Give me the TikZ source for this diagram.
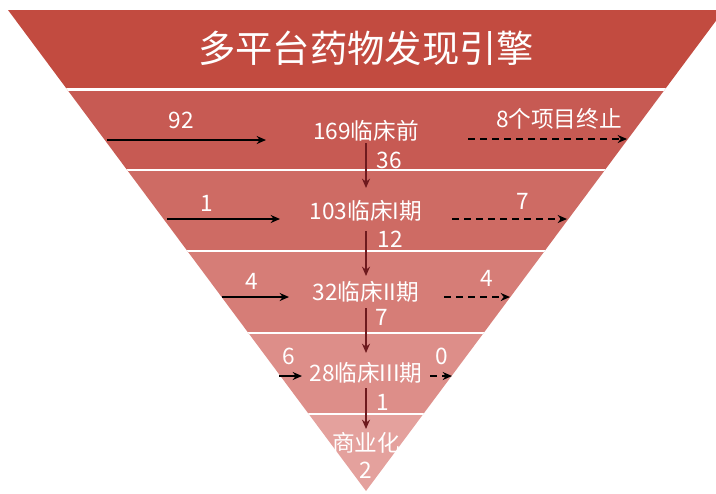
\documentclass[tikz,border=0pt]{standalone}
\usepackage{fontspec}
\setmainfont{Noto Sans CJK SC}
\usetikzlibrary{arrows.meta}
\definecolor{bandA}{HTML}{C24B40}
\definecolor{bandB}{HTML}{C75A53}
\definecolor{bandC}{HTML}{CE6B64}
\definecolor{bandD}{HTML}{D67D77}
\definecolor{bandE}{HTML}{DD8E89}
\definecolor{bandF}{HTML}{E4A19D}
\definecolor{flowred}{HTML}{6E1A1E}
\tikzset{
  lbl/.style={text=white, font=\fontsize{17}{19}\selectfont, inner sep=0pt},
  ttl/.style={text=white, font=\fontsize{28}{32}\selectfont, inner sep=0pt},
  inarrow/.style={draw=black, line width=1.5pt, -{Stealth[length=7pt,width=6pt]}},
  outarrow/.style={draw=black, line width=1.5pt, dash pattern=on 5pt off 4pt, -{Stealth[length=7pt,width=6pt]}},
  downarrow/.style={draw=flowred, line width=1.5pt, -{Stealth[length=7pt,width=6pt]}},
}
\begin{document}
\begin{tikzpicture}[x=0.75pt,y=-0.75pt]
\useasboundingbox (0,0) rectangle (716,493);
\begin{scope}
\clip (0,0) rectangle (716,493);
\clip (8,10) -- (724,10) -- (366,491) -- cycle;
\fill[bandA] (0,10) rectangle (730,90);
\fill[bandB] (0,90) rectangle (730,170);
\fill[bandC] (0,170) rectangle (730,251);
\fill[bandD] (0,251) rectangle (730,333);
\fill[bandE] (0,333) rectangle (730,414);
\fill[bandF] (0,414) rectangle (730,495);
\foreach \yy in {89.5,170,251,333,414}
  \draw[white, line width=2pt] (0,\yy) -- (730,\yy);
\end{scope}

% title
\node[ttl] (title) at (366,48) {多平台药物发现引擎};

% stage labels
\node[lbl] (s1) at (366,131) {169临床前};
\node[lbl] (s2) at (366,211) {103临床I期};
\node[lbl] (s3) at (366,292) {32临床II期};
\node[lbl] (s4) at (366,373) {28临床III期};
\node[lbl] (s5) at (366,443) {商业化};

% counts
\node[lbl] (n92) at (181,120) {92};
\node[lbl] (n8) at (559,119) {8个项目终止};
\node[lbl] (n36) at (389,160) {36};
\node[lbl] (n1a) at (207,203) {1};
\node[lbl] (n7a) at (523,201) {7};
\node[lbl] (n12) at (390,239) {12};
\node[lbl] (n4a) at (252,281) {4};
\node[lbl] (n4b) at (487,278) {4};
\node[lbl] (n7b) at (382,317) {7};
\node[lbl] (n6) at (289,356) {6};
\node[lbl] (n0) at (442,356) {0};
\node[lbl] (n1b) at (383,402) {1};
\node[lbl] (n2) at (366,470) {2};

% arrow end coordinates
\coordinate (a1s) at (107,140); \coordinate (a1e) at (266,140);
\coordinate (d1s) at (468,139); \coordinate (d1e) at (627,139);
\coordinate (a2s) at (167,219); \coordinate (a2e) at (280,219);
\coordinate (d2s) at (452,219); \coordinate (d2e) at (567,219);
\coordinate (a3s) at (222,297); \coordinate (a3e) at (289,297);
\coordinate (d3s) at (444,297); \coordinate (d3e) at (510,297);
\coordinate (a4s) at (279,376); \coordinate (a4e) at (302,376);
\coordinate (d4s) at (430,376); \coordinate (d4e) at (452,376);
\coordinate (v1s) at (366,143); \coordinate (v1e) at (366,188);
\coordinate (v2s) at (366,231); \coordinate (v2e) at (366,276);
\coordinate (v3s) at (366,308); \coordinate (v3e) at (366,353);
\coordinate (v4s) at (366,388); \coordinate (v4e) at (366,429);

\draw[inarrow] (a1s) -- (a1e);
\draw[inarrow] (a2s) -- (a2e);
\draw[inarrow] (a3s) -- (a3e);
\draw[inarrow] (a4s) -- (a4e);
\draw[outarrow] (d1s) -- (d1e);
\draw[outarrow] (d2s) -- (d2e);
\draw[outarrow] (d3s) -- (d3e);
\draw[outarrow] (d4s) -- (d4e);
\draw[downarrow] (v1s) -- (v1e);
\draw[downarrow] (v2s) -- (v2e);
\draw[downarrow] (v3s) -- (v3e);
\draw[downarrow] (v4s) -- (v4e);
\end{tikzpicture}
\end{document}
